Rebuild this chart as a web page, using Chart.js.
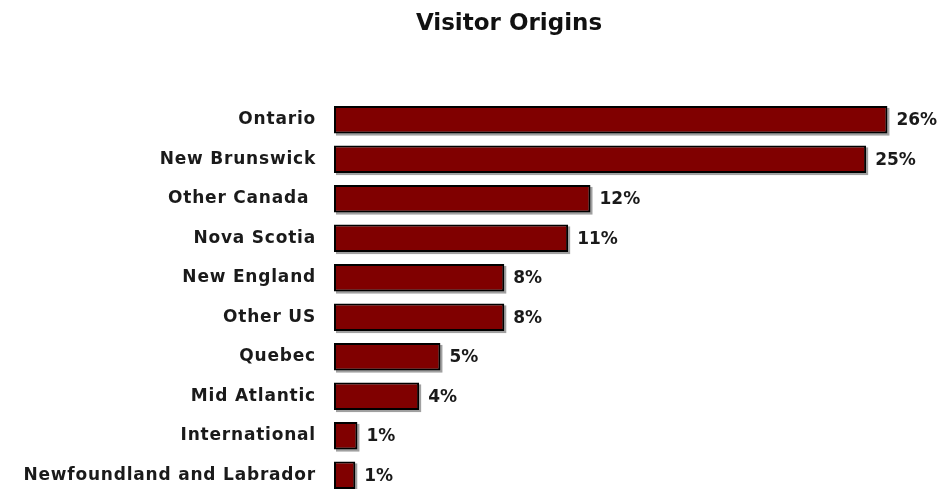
<!DOCTYPE html>
<html>
<head>
<meta charset="utf-8">
<script src="https://cdn.jsdelivr.net/npm/chart.js@4"></script>
<style>
    html, body { margin: 0; padding: 0; background: #fff; overflow: hidden; }
    canvas { display: block; }
</style>
</head>
<body>
<canvas id="js--chart" width="942" height="495"></canvas>
<script>
const title = "Visitor Origins";
const labels = ["Ontario", "New Brunswick", "Other Canada ", "Nova Scotia", "New England",
    "Other US", "Quebec", "Mid Atlantic", "International", "Newfoundland and Labrador"];
const values = [26, 25, 12.05, 11, 8, 8, 5, 4, 1.1, 1];
const valueLabels = ["26%", "25%", "12%", "11%", "8%", "8%", "5%", "4%", "1%", "1%"];

const fontFamily = "'DejaVu Sans', Verdana, sans-serif";

// slightly wider category labels (letter spacing only while the axis draws)
const labelSpacing = {
    id: "labelSpacing",
    beforeDraw(chart) {
        chart.ctx.letterSpacing = "0.8px";
    },
    beforeDatasetsDraw(chart) {
        chart.ctx.letterSpacing = "0px";
    }
};

// title, centred over the labels + bars block rather than the canvas
const titlePlugin = {
    id: "titlePlugin",
    afterDraw(chart) {
        const ctx = chart.ctx;
        ctx.save();
        ctx.letterSpacing = "0px";
        ctx.font = "bold 23px " + fontFamily;
        ctx.fillStyle = "#111";
        ctx.textAlign = "center";
        ctx.textBaseline = "middle";
        ctx.fillText(title, 509, 24);
        ctx.restore();
    }
};

// grey drop shadow under each bar
const barShadow = {
    id: "barShadow",
    beforeDatasetsDraw(chart) {
        const ctx = chart.ctx;
        ctx.save();
        ctx.fillStyle = "#a0a0a0";
        chart.getDatasetMeta(0).data.forEach((bar) => {
            const h = bar.height;
            ctx.fillRect(bar.base + 2, bar.y - h / 2 + 2, bar.x - bar.base, h);
        });
        ctx.restore();
    }
};

// percent labels at the end of each bar
const endLabels = {
    id: "endLabels",
    afterDraw(chart) {
        const ctx = chart.ctx;
        ctx.save();
        ctx.letterSpacing = "0px";
        ctx.font = "bold 17px " + fontFamily;
        ctx.fillStyle = "#1a1a1a";
        ctx.textBaseline = "middle";
        chart.getDatasetMeta(0).data.forEach((bar, i) => {
            ctx.fillText(valueLabels[i], bar.x + 9, bar.y + 1);
        });
        ctx.restore();
    }
};

const data = {
    labels: labels,
    datasets: [
        {
            data: values,
            backgroundColor: "#800000",
            borderColor: "#000000",
            borderWidth: 2,
            borderSkipped: false,
            barPercentage: 0.7,
            categoryPercentage: 1
        }
    ]
};

const chart = new Chart(document.getElementById("js--chart"), {
    type: "bar",
    data: data,
    plugins: [labelSpacing, barShadow, endLabels, titlePlugin],
    options: {
        indexAxis: "y",
        responsive: false,
        maintainAspectRatio: false,
        animation: false,
        layout: { padding: { left: 0, right: 12, top: 100, bottom: 0 } },
        plugins: {
            legend: { display: false },
            tooltip: { enabled: false },
            title: { display: false }
        },
        scales: {
            x: {
                display: false,
                min: 0,
                max: 28
            },
            y: {
                grid: { display: false },
                border: { display: false },
                ticks: {
                    padding: 10,
                    color: "#1a1a1a",
                    font: { family: fontFamily, size: 17, weight: "bold" }
                },
                afterFit(scale) {
                    scale.width = 334;
                    scale.paddingTop = 0;
                    scale.paddingBottom = 0;
                }
            }
        }
    }
});
</script>
</body>
</html>
